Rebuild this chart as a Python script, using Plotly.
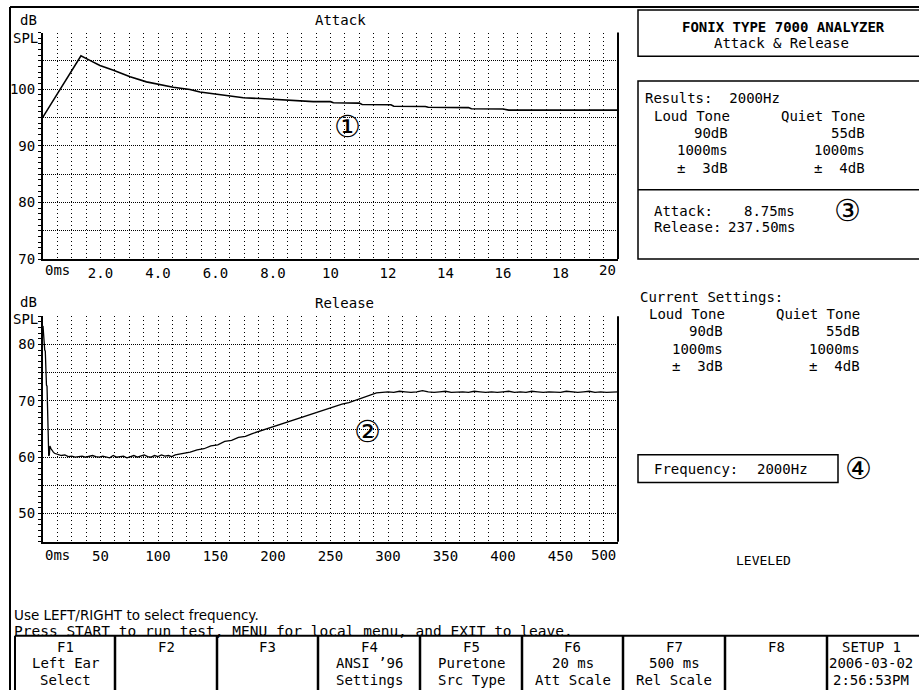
import plotly.graph_objects as go

W, H = 919, 698

# ---------------- data ----------------
attack_ms = [0, 1.32, 1.63, 1.98, 2.45, 3.03, 3.6, 4.07, 4.53, 5.11, 5.46, 5.92, 6.5, 6.97,
             7.55, 8.0, 8.48, 8.94, 9.4, 10.0, 10.1, 11.0, 11.1, 12.1, 12.2, 13.3, 13.4,
             14.8, 14.9, 16.0, 16.2, 20.0]
attack_db = [95.1, 105.9, 105.1, 104.2, 103.35, 102.2, 101.3, 100.8, 100.35, 99.95, 99.5, 99.2,
             98.8, 98.5, 98.35, 98.2, 98.05, 97.9, 97.8, 97.8, 97.6, 97.55, 97.3, 97.25, 97.0,
             96.95, 96.8, 96.75, 96.55, 96.5, 96.3, 96.3]

rel_drop_ms = [0, 0.5, 1.0, 1.5, 2.0, 2.5, 3.0, 3.5, 4.0, 4.5, 5.0, 5.5, 6.0, 7.0, 8.0, 9.0]
rel_drop_db = [83.3, 82.0, 79.2, 79.0, 78.8, 72.9, 72.8, 72.6, 65.3, 65.0, 60.2, 60.4, 62.0, 61.5, 61.1, 60.9]

rel_floor_ms = [10, 13, 16, 19, 22, 25, 28, 31, 34, 37,
                40, 43, 46, 49, 52, 55, 58, 61, 64, 67,
                70, 73, 76, 79, 82, 85, 88, 91, 94, 97,
                100, 103, 106, 109, 112, 115, 118]
rel_floor_db = [60.7, 60.5, 60.3, 60.4, 60.1, 60.2, 60.0, 60.1, 60.2, 60.0,
                60.2, 60.3, 60.1, 60.0, 60.2, 60.1, 59.9, 60.3, 60.0, 60.1,
                60.2, 59.9, 60.1, 60.3, 60.0, 60.2, 60.4, 60.1, 60.0, 60.3,
                60.1, 60.4, 60.2, 60.3, 60.1, 60.4, 60.5]

rel_rise_ms = [122, 128, 134, 140, 146, 152, 158, 164, 170, 176,
               182, 188, 194, 200, 206, 212, 218, 224, 230, 236,
               242, 248, 254, 260, 266, 272, 278, 284, 290]
rel_rise_db = [60.6, 60.9, 61.3, 61.5, 62.0, 62.2, 62.8, 63.0, 63.5, 63.7,
               64.2, 64.6, 65.1, 65.4, 65.9, 66.2, 66.6, 67.0, 67.4, 67.9,
               68.2, 68.6, 69.0, 69.4, 69.7, 70.1, 70.5, 70.9, 71.4]

rel_flat_ms = [295, 300, 305, 310, 315, 320, 325, 330, 335, 340,
               345, 350, 355, 360, 365, 370, 375, 380, 385, 390,
               395, 400, 405, 410, 415, 420, 425, 430, 435, 440,
               445, 450, 455, 460, 465, 470, 475, 480, 485, 490,
               495, 500]
rel_flat_db = [71.5, 71.6, 71.5, 71.7, 71.6, 71.5, 71.6, 71.8, 71.6, 71.5,
               71.6, 71.7, 71.5, 71.6, 71.6, 71.5, 71.7, 71.6, 71.5, 71.6,
               71.5, 71.6, 71.7, 71.5, 71.6, 71.5, 71.7, 71.6, 71.5, 71.6,
               71.6, 71.5, 71.7, 71.6, 71.5, 71.6, 71.7, 71.5, 71.6, 71.5,
               71.6, 71.6]

release_ms = rel_drop_ms + rel_floor_ms + rel_rise_ms + rel_flat_ms
release_db = rel_drop_db + rel_floor_db + rel_rise_db + rel_flat_db

att_tick_step = 0.5
att_label_vals = {2: "2.0", 4: "4.0", 6: "6.0", 8: "8.0", 10: "10", 12: "12", 14: "14", 16: "16", 18: "18"}
rel_tick_step = 12.5
rel_label_vals = {50: "50", 100: "100", 150: "150", 200: "200", 250: "250", 300: "300",
                  350: "350", 400: "400", 450: "450"}
att_y_labels = {70: "70", 80: "80", 90: "90", 100: "100"}
rel_y_labels = {50: "50", 60: "60", 70: "70", 80: "80"}

key_top = ["F1", "F2", "F3", "F4", "F5", "F6", "F7", "F8", "SETUP 1"]
key_mid = ["Left Ear", "", "", "ANSI \u201996", "Puretone", "20 ms", "500 ms", "", "2006-03-02"]
key_bot = ["Select", "", "", "Settings", "Src Type", "Att Scale", "Rel Scale", "", "2:56:53PM"]

# ---------------- helpers ----------------
def px(x):
    return x / W

def py(y):
    return 1 - y / H

SANS = "DejaVu Sans"
MONO = "DejaVu Sans Mono"
NB = "\u00a0"

def ticks(lo, hi, step, labels):
    vals, txt = [], []
    v = lo
    while v <= hi + 1e-9:
        vals.append(v)
        lab = ""
        for k, s in labels.items():
            if abs(k - v) < 1e-6:
                lab = s
        txt.append(lab)
        v += step
    return vals, txt

fig = go.Figure()
fig.add_trace(go.Scatter(x=attack_ms, y=attack_db, mode="lines",
                         line=dict(color="black", width=1.6), xaxis="x", yaxis="y",
                         hoverinfo="skip"))
fig.add_trace(go.Scatter(x=release_ms, y=release_db, mode="lines",
                         line=dict(color="black", width=1.3), xaxis="x2", yaxis="y2",
                         hoverinfo="skip"))

ax_v, ax_t = ticks(0, 20, att_tick_step, att_label_vals)
rx_v, rx_t = ticks(0, 500, rel_tick_step, rel_label_vals)
ay_v, ay_t = ticks(70, 110, 5, att_y_labels)
ry_v, ry_t = ticks(45, 85, 5, rel_y_labels)

xcommon = dict(showgrid=True, gridcolor="black", griddash="1px,3px", gridwidth=1,
               showline=True, linecolor="black", linewidth=2, ticks="", zeroline=False,
               tickfont=dict(family=MONO, size=14, color="black"), tickmode="array",
               fixedrange=True)
ycommon = dict(showgrid=True, gridcolor="black", griddash="1px,1px", gridwidth=1,
               showline=True, linecolor="black", linewidth=2, ticks="outside", ticklen=3,
               tickcolor="black", zeroline=False,
               tickfont=dict(family=MONO, size=14, color="black"), tickmode="array",
               minor=dict(dtick=1, ticks="outside", ticklen=3, tickcolor="black", showgrid=False),
               fixedrange=True)

fig.update_layout(
    width=W, height=H, autosize=False,
    margin=dict(l=0, r=0, t=0, b=0),
    paper_bgcolor="white", plot_bgcolor="white",
    showlegend=False,
    xaxis=dict(xcommon, domain=[px(43), px(618)], range=[0, 20], anchor="y",
               tickvals=ax_v, ticktext=ax_t),
    yaxis=dict(ycommon, domain=[py(262), py(33)], range=[70, 110], anchor="x",
               tickvals=ay_v, ticktext=ay_t),
    xaxis2=dict(xcommon, domain=[px(43), px(618)], range=[0, 500], anchor="y2",
                tickvals=rx_v, ticktext=rx_t),
    yaxis2=dict(ycommon, domain=[py(548), py(320)], range=[45, 85], anchor="x2",
                tickvals=ry_v, ticktext=ry_t),
)

shapes = []
def line(x0, y0, x1, y1, w=2):
    shapes.append(dict(type="line", xref="paper", yref="paper",
                       x0=px(x0), y0=py(y0), x1=px(x1), y1=py(y1),
                       line=dict(color="black", width=w)))
def rect(x0, y0, x1, y1, w=1.5):
    shapes.append(dict(type="rect", xref="paper", yref="paper",
                       x0=px(x0), y0=py(y0), x1=px(x1), y1=py(y1),
                       line=dict(color="black", width=w), fillcolor="rgba(0,0,0,0)"))

# screen frame
line(10, 7, 925, 7, 2)
line(10, 7, 10, 698, 2)
# right edges of plots
line(618, 33, 618, 262, 2)
line(618, 320, 618, 548, 2)
# right panel boxes
rect(638, 10, 930, 57)
rect(638, 82, 930, 262)
line(638, 192, 925, 192, 1.5)
rect(638, 460, 838, 488)
# key bar
line(15, 643, 925, 643, 2)
line(15, 643, 15, 698, 2)
key_edges = [15, 115, 217, 318, 420, 522, 623, 725, 827, 1030]
for xe in key_edges[1:-1]:
    line(xe, 643, xe, 698, 2.5)
fig.update_layout(shapes=shapes)

ann = []
def text(s, x, y, anchor="center", size=14, family=MONO, bold=False):
    if bold:
        s = "<b>" + s + "</b>"
    ann.append(dict(text=s, x=px(x), y=py(y), xref="paper", yref="paper",
                    xanchor=anchor, yanchor="middle", showarrow=False,
                    font=dict(family=family, size=size, color="black")))

# plot titles & axis captions
text("Attack", 340, 20)
text("Release", 344, 307)
text("dB", 28, 20)
text("SPL", 25, 38)
text("dB", 28, 305)
text("SPL", 25, 323)
text("0ms", 43, 273, anchor="left")
text("20", 618, 273, anchor="right")
text("0ms", 43, 561, anchor="left")
text("500", 618, 561, anchor="right")
text("\u2460", 347, 128, size=30, family=SANS)
text("\u2461", 367, 437, size=30, family=SANS)

# right panel
text("FONIX TYPE 7000 ANALYZER", 783, 27, bold=True)
text("Attack &amp; Release", 781, 43)
text("Results:" + NB + NB + "2000Hz", 643, 99, anchor="left")
text("Loud Tone", 652, 117, anchor="left")
text("Quiet Tone", 867, 117, anchor="right")
text("90dB", 730, 135, anchor="right")
text("55dB", 867, 135, anchor="right")
text("1000ms", 730, 152, anchor="right")
text("1000ms", 867, 152, anchor="right")
text("\u00b1" + NB + NB + "3dB", 730, 170, anchor="right")
text("\u00b1" + NB + NB + "4dB", 867, 170, anchor="right")
text("Attack:", 652, 213, anchor="left")
text("8.75ms", 797, 213, anchor="right")
text("Release:", 652, 230, anchor="left")
text("237.50ms", 797, 230, anchor="right")
text("\u2462", 847, 213, size=30, family=SANS)

text("Current Settings:", 638, 300, anchor="left")
text("Loud Tone", 647, 318, anchor="left")
text("Quiet Tone", 862, 318, anchor="right")
text("90dB", 725, 335, anchor="right")
text("55dB", 862, 335, anchor="right")
text("1000ms", 725, 353, anchor="right")
text("1000ms", 862, 353, anchor="right")
text("\u00b1" + NB + NB + "3dB", 725, 370, anchor="right")
text("\u00b1" + NB + NB + "4dB", 862, 370, anchor="right")
text("Frequency:", 652, 474, anchor="left")
text("2000Hz", 755, 474, anchor="left")
text("\u2463", 858, 474, size=30, family=SANS)
text("LEVELED", 763, 567, size=13)

# messages
text("Use LEFT/RIGHT to select frequency.", 12, 622, anchor="left", size=13.5, family=SANS)
text("Press START to run test, MENU for local menu, and EXIT to leave.", 12, 638,
     anchor="left", size=14.5)

# function keys
centers = [(key_edges[i] + key_edges[i + 1]) / 2 for i in range(8)] + [871]
for i, cx in enumerate(centers):
    text(key_top[i], cx, 655, size=14)
    if key_mid[i]:
        text(key_mid[i], cx, 671, size=14)
    if key_bot[i]:
        text(key_bot[i], cx, 688, size=14)

fig.update_layout(annotations=ann)

page_css = (
    "var d=document.documentElement,b=document.body;"
    "d.style.margin='0';d.style.padding='0';d.style.overflow='hidden';"
    "b.style.margin='0';b.style.padding='0';b.style.overflow='hidden';"
)
fig.write_html("out.html", config={"displayModeBar": False}, post_script=page_css)
